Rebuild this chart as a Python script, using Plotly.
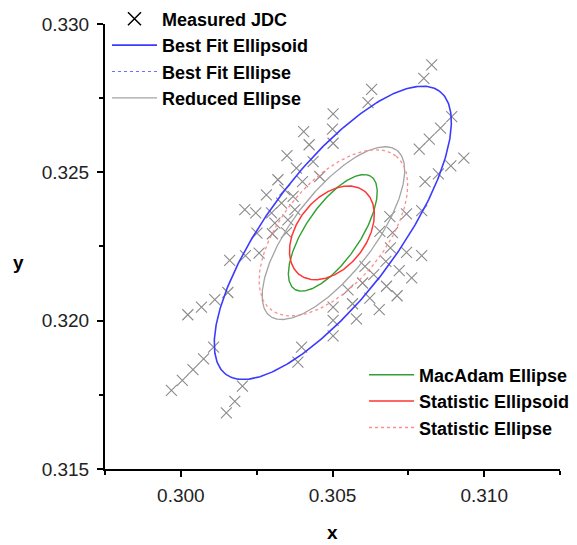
import numpy as np
import plotly.graph_objects as go

# Measured JDC points (chromaticity x, y)
jdc_x = [0.30827, 0.30801, 0.30629, 0.30617, 0.30502, 0.30500, 0.30502, 0.30893, 0.30856, 0.30819,
         0.30786, 0.30933, 0.30890, 0.30849, 0.30805, 0.30794, 0.30744, 0.30689, 0.30698, 0.30656,
         0.30458, 0.30405, 0.30423, 0.30350, 0.30436, 0.30381, 0.30320, 0.30401, 0.30282, 0.30343,
         0.30370, 0.30247, 0.30211, 0.30332, 0.30299, 0.30376, 0.30353, 0.30310, 0.30251, 0.30302,
         0.30348, 0.30161, 0.30213, 0.30258, 0.30155, 0.30112, 0.30068, 0.30023, 0.30108, 0.30075,
         0.30040, 0.30005, 0.29969, 0.30203, 0.30178, 0.30150, 0.30398, 0.30386, 0.30691, 0.30744,
         0.30794, 0.30676, 0.30720, 0.30761, 0.30607, 0.30636, 0.30599, 0.30678, 0.30713, 0.30551,
         0.30623, 0.30566, 0.30654, 0.30502, 0.30579, 0.30502, 0.30502]
jdc_y = [0.32862, 0.32817, 0.32780, 0.32735, 0.32697, 0.32646, 0.32598, 0.32688, 0.32649, 0.32612,
         0.32578, 0.32548, 0.32522, 0.32495, 0.32469, 0.32371, 0.32360, 0.32351, 0.32297, 0.32301,
         0.32486, 0.32637, 0.32593, 0.32556, 0.32536, 0.32514, 0.32475, 0.32469, 0.32424, 0.32441,
         0.32419, 0.32363, 0.32374, 0.32396, 0.32363, 0.32374, 0.32340, 0.32329, 0.32295, 0.32293,
         0.32297, 0.32203, 0.32219, 0.32228, 0.32095, 0.32071, 0.32046, 0.32020, 0.31911, 0.31871,
         0.31835, 0.31799, 0.31765, 0.31779, 0.31728, 0.31689, 0.31911, 0.31860, 0.32245, 0.32230,
         0.32219, 0.32200, 0.32169, 0.32144, 0.32183, 0.32155, 0.32127, 0.32116, 0.32084, 0.32104,
         0.32076, 0.32057, 0.32037, 0.32046, 0.32006, 0.32001, 0.31949]

# Ellipse parameters: centre x, centre y, semi-major, semi-minor, tilt (deg)
ellipse_names = ["Best Fit Ellipsoid", "Reduced Ellipse", "MacAdam Ellipse",
                 "Statistic Ellipsoid", "Statistic Ellipse"]
ellipse_cx = [0.30501, 0.30503, 0.30501, 0.30498, 0.30503]
ellipse_cy = [0.32296, 0.32295, 0.32296, 0.32296, 0.32296]
ellipse_a = [0.00593, 0.00349, 0.00228, 0.00177, 0.00331]
ellipse_b = [0.00213, 0.00135, 0.00090, 0.00115, 0.00170]
ellipse_deg = [53.7, 53.3, 56.5, 53.7, 51.6]

x_ticks = [0.300, 0.305, 0.310]
y_ticks = [0.315, 0.320, 0.325, 0.330]

styles = {
    "Best Fit Ellipsoid": dict(color="#3b3bff", width=1.6, dash="solid", legend="legend"),
    "Reduced Ellipse": dict(color="#a3a3a3", width=1.3, dash="solid", legend="legend"),
    "MacAdam Ellipse": dict(color="#30a030", width=1.4, dash="solid", legend="legend2"),
    "Statistic Ellipsoid": dict(color="#ff3535", width=1.5, dash="solid", legend="legend2"),
    "Statistic Ellipse": dict(color="#ff8c8c", width=1.3, dash="dot", legend="legend2"),
}

def ellipse(cx, cy, a, b, deg):
    t = np.linspace(0, 2 * np.pi, 361)
    th = np.deg2rad(deg)
    ex = cx + a * np.cos(th) * np.cos(t) - b * np.sin(th) * np.sin(t)
    ey = cy + a * np.sin(th) * np.cos(t) + b * np.cos(th) * np.sin(t)
    return ex, ey

fig = go.Figure()

fig.add_trace(go.Scatter(
    x=jdc_x, y=jdc_y, mode="markers", showlegend=False, name="Measured JDC",
    marker=dict(symbol="x-thin", size=11, color="#8a8a8a",
                line=dict(color="#8a8a8a", width=1.1)),
))

ell = {}
for i, n in enumerate(ellipse_names):
    ell[n] = ellipse(ellipse_cx[i], ellipse_cy[i], ellipse_a[i], ellipse_b[i], ellipse_deg[i])

def add_ell(n, rank):
    s = styles[n]
    ex, ey = ell[n]
    fig.add_trace(go.Scatter(x=ex, y=ey, mode="lines", name=n, legend=s["legend"],
                             legendrank=rank,
                             line=dict(color=s["color"], width=s["width"], dash=s["dash"])))

# top legend entries
fig.add_trace(go.Scatter(x=[None], y=[None], mode="markers", name="Measured JDC",
                         legend="legend", legendrank=1,
                         marker=dict(symbol="x-thin", size=13, color="black",
                                     line=dict(color="black", width=1.5))))
add_ell("Best Fit Ellipsoid", 2)
fig.add_trace(go.Scatter(x=[None], y=[None], mode="lines", name="Best Fit Ellipse",
                         legend="legend", legendrank=3,
                         line=dict(color="#6f6fff", width=1.2, dash="dot")))
add_ell("Reduced Ellipse", 4)
add_ell("Statistic Ellipse", 3)
add_ell("MacAdam Ellipse", 1)
add_ell("Statistic Ellipsoid", 2)

font_fam = "Liberation Sans, Arial, sans-serif"
axis_common = dict(
    showline=True, linewidth=2, linecolor="black", mirror=False, automargin=False,
    ticks="outside", ticklen=6, tickwidth=2, tickcolor="black",
    showgrid=False, zeroline=False, tickformat=".3f",
    tickfont=dict(family=font_fam, size=19, color="#222222"),
    minor=dict(ticks="outside", ticklen=4, tickwidth=2, tickcolor="black", dtick=0.0025),
)

fig.update_layout(
    width=569, height=537,
    margin=dict(l=97, r=0, t=0, b=76, autoexpand=False),
    paper_bgcolor="white", plot_bgcolor="white",
    font=dict(family=font_fam),
    xaxis=dict(range=[0.2975, 0.3125], tickvals=x_ticks, ticklabelstandoff=2,
               domain=[0, 0.9640], **axis_common),
    yaxis=dict(range=[0.315, 0.330], tickvals=y_ticks, ticklabelstandoff=4,
               domain=[0, 0.9653], **axis_common),
    legend=dict(x=0.0042, y=1.0163, xanchor="left", yanchor="top", bgcolor="rgba(0,0,0,0)",
                font=dict(family=font_fam, size=18, color="black", weight="bold"),
                itemwidth=45, traceorder="normal"),
    legend2=dict(x=0.5488, y=0.244, xanchor="left", yanchor="top", bgcolor="rgba(0,0,0,0)",
                 font=dict(family=font_fam, size=18, color="black", weight="bold"),
                 itemwidth=45, traceorder="normal"),
    annotations=[
        dict(text="<b>x</b>", x=0.483, y=-0.1367, xref="paper", yref="paper",
             xanchor="center", yanchor="middle",
             showarrow=False, font=dict(family=font_fam, size=19, color="black")),
        dict(text="<b>y</b>", x=-0.1843, y=0.4469, xref="paper", yref="paper",
             xanchor="center", yanchor="middle",
             showarrow=False, font=dict(family=font_fam, size=19, color="black")),
    ],
)

fig.write_html("out.html")
